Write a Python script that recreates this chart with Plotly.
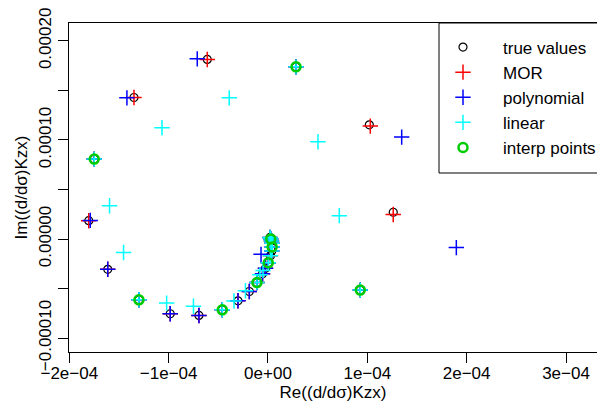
import plotly.graph_objects as go

# ---- data ----
true_re = [0.020e-4, 0.028e-4, 0.035e-4, 0.040e-4, 0.042e-4, 0.038e-4, 0.025e-4, 0.003e-4,
           -0.025e-4, -0.055e-4, -0.111e-4, -0.188e-4, -0.302e-4, -0.460e-4, -0.695e-4,
           -0.984e-4, -1.299e-4, -1.613e-4, -1.804e-4, -1.749e-4, -1.349e-4, -0.611e-4,
           0.282e-4, 1.020e-4, 1.261e-4, 0.929e-4]
true_im = [0.016e-4, 0.001e-4, -0.019e-4, -0.044e-4, -0.080e-4, -0.120e-4, -0.170e-4, -0.241e-4,
           -0.296e-4, -0.352e-4, -0.440e-4, -0.530e-4, -0.624e-4, -0.715e-4, -0.772e-4,
           -0.755e-4, -0.614e-4, -0.306e-4, 0.185e-4, 0.807e-4, 1.429e-4, 1.813e-4,
           1.738e-4, 1.153e-4, 0.270e-4, -0.516e-4]

mor_re = [0.020e-4, 0.028e-4, 0.035e-4, 0.040e-4, 0.042e-4, 0.038e-4, 0.025e-4, 0.003e-4,
          -0.025e-4, -0.055e-4, -0.111e-4, -0.188e-4, -0.302e-4, -0.460e-4, -0.695e-4,
          -0.984e-4, -1.299e-4, -1.613e-4, -1.804e-4, -1.749e-4, -1.349e-4, -0.611e-4,
          0.282e-4, 1.030e-4, 1.261e-4, 0.929e-4]
mor_im = [0.016e-4, 0.001e-4, -0.019e-4, -0.044e-4, -0.080e-4, -0.120e-4, -0.170e-4, -0.241e-4,
          -0.296e-4, -0.352e-4, -0.440e-4, -0.530e-4, -0.624e-4, -0.715e-4, -0.772e-4,
          -0.755e-4, -0.614e-4, -0.306e-4, 0.185e-4, 0.807e-4, 1.429e-4, 1.813e-4,
          1.738e-4, 1.140e-4, 0.248e-4, -0.516e-4]

poly_re = [0.020e-4, 0.028e-4, 0.035e-4, 0.040e-4, 0.042e-4, 0.038e-4, -0.070e-4, 0.003e-4,
           -0.025e-4, -0.055e-4, -0.111e-4, -0.188e-4, -0.302e-4, -0.460e-4, -0.695e-4,
           -0.984e-4, -1.299e-4, -1.613e-4, -1.789e-4, -1.749e-4, -1.420e-4, -0.712e-4,
           0.282e-4, 1.346e-4, 1.896e-4, 0.929e-4]
poly_im = [0.016e-4, 0.001e-4, -0.019e-4, -0.044e-4, -0.080e-4, -0.120e-4, -0.155e-4, -0.241e-4,
           -0.296e-4, -0.352e-4, -0.440e-4, -0.530e-4, -0.624e-4, -0.715e-4, -0.772e-4,
           -0.755e-4, -0.614e-4, -0.306e-4, 0.188e-4, 0.807e-4, 1.425e-4, 1.819e-4,
           1.738e-4, 1.029e-4, -0.087e-4, -0.516e-4]

lin_re = [0.020e-4, 0.028e-4, 0.035e-4, 0.040e-4, 0.042e-4, 0.038e-4, 0.025e-4, 0.003e-4,
          -0.050e-4, -0.081e-4, -0.111e-4, -0.227e-4, -0.342e-4, -0.460e-4, -0.750e-4,
          -1.020e-4, -1.299e-4, -1.454e-4, -1.595e-4, -1.749e-4, -1.067e-4, -0.390e-4,
          0.282e-4, 0.503e-4, 0.718e-4, 0.929e-4]
lin_im = [0.016e-4, 0.001e-4, -0.019e-4, -0.044e-4, -0.080e-4, -0.120e-4, -0.170e-4, -0.241e-4,
          -0.317e-4, -0.362e-4, -0.440e-4, -0.523e-4, -0.626e-4, -0.715e-4, -0.679e-4,
          -0.647e-4, -0.614e-4, -0.137e-4, 0.336e-4, 0.807e-4, 1.123e-4, 1.425e-4,
          1.738e-4, 0.982e-4, 0.236e-4, -0.516e-4]

interp_re = [0.028e-4, 0.042e-4, 0.003e-4, -0.111e-4, -0.460e-4, -1.299e-4, -1.749e-4, 0.282e-4, 0.929e-4]
interp_im = [0.001e-4, -0.080e-4, -0.241e-4, -0.440e-4, -0.715e-4, -0.614e-4, 0.807e-4, 1.738e-4, -0.516e-4]

x_tickvals = [-2e-4, -1e-4, 0, 1e-4, 2e-4, 3e-4]
x_ticktext = ["\u22122e\u221204", "\u22121e\u221204", "0e+00", "1e\u221204", "2e\u221204", "3e\u221204"]
y_tickvals = [2e-4, 1.5e-4, 1e-4, 0.5e-4, 0, -0.5e-4, -1e-4]
y_ticktext = ["0.00020", "", "0.00010", "", "0.00000", "", "\u22120.00010"]

FONT = "Liberation Sans, Arial, Helvetica, sans-serif"

fig = go.Figure()
fig.add_trace(go.Scatter(x=true_re, y=true_im, mode="markers", name="true values",
                         marker=dict(symbol="circle-open", size=8, color="black", line=dict(width=1.2))))
fig.add_trace(go.Scatter(x=mor_re, y=mor_im, mode="markers", name="MOR",
                         marker=dict(symbol="cross-thin-open", size=11, color="#FF0000", line=dict(width=1.5, color="#FF0000"))))
fig.add_trace(go.Scatter(x=poly_re, y=poly_im, mode="markers", name="polynomial",
                         marker=dict(symbol="cross-thin-open", size=11, color="#0000FF", line=dict(width=1.5, color="#0000FF"))))
fig.add_trace(go.Scatter(x=lin_re, y=lin_im, mode="markers", name="linear",
                         marker=dict(symbol="cross-thin-open", size=11, color="#00FFFF", line=dict(width=1.5, color="#00FFFF"))))
fig.add_trace(go.Scatter(x=interp_re, y=interp_im, mode="markers", name="interp points",
                         marker=dict(symbol="circle-open", size=9, color="#00CD00", line=dict(width=2.5, color="#00CD00"))))

W, H = 597, 405
L, R, T, B = 69, 0, 23, 53
pw = W - L - R
ph = H - T - B

def px_x(p):
    return (p - L) / pw

def px_y(p):
    return 1 - (p - T) / ph

fig.update_layout(
    width=W, height=H,
    margin=dict(l=L, r=R, t=T, b=B, autoexpand=False),
    paper_bgcolor="white", plot_bgcolor="white",
    font=dict(family=FONT, size=17, color="black"),
    showlegend=True,
    legend=dict(x=px_x(423), y=px_y(29.5), xanchor="left", yanchor="top",
                bgcolor="rgba(0,0,0,0)", borderwidth=0, itemwidth=70,
                font=dict(family=FONT, size=17, color="black")),
    shapes=[dict(type="rect", xref="paper", yref="paper",
                 x0=px_x(439), x1=1.2, y0=px_y(173), y1=1,
                 line=dict(color="black", width=1), fillcolor="rgba(0,0,0,0)")],
)
fig.update_xaxes(range=[-2.003e-4, 3.312e-4], tickmode="array", tickvals=x_tickvals, ticktext=x_ticktext,
                 showgrid=False, zeroline=False, showline=True, mirror=True, linecolor="black", linewidth=1,
                 ticks="outside", ticklen=10, tickcolor="black", ticklabelstandoff=-4,
                 title=dict(text="Re((d/d\u03c3)Kzx)", standoff=0, font=dict(size=17)))
fig.update_yaxes(range=[-1.141e-4, 2.181e-4], tickmode="array", tickvals=y_tickvals, ticktext=y_ticktext,
                 tickangle=-90,
                 showgrid=False, zeroline=False, showline=True, mirror=False, linecolor="black", linewidth=1,
                 ticks="outside", ticklen=10, tickcolor="black",
                 title=dict(text="Im((d/d\u03c3)Kzx)", standoff=4, font=dict(size=17)))

fig.write_html("out.html", config={"displayModeBar": False},
               post_script="document.body.style.margin='0';document.body.style.overflow='hidden';")
